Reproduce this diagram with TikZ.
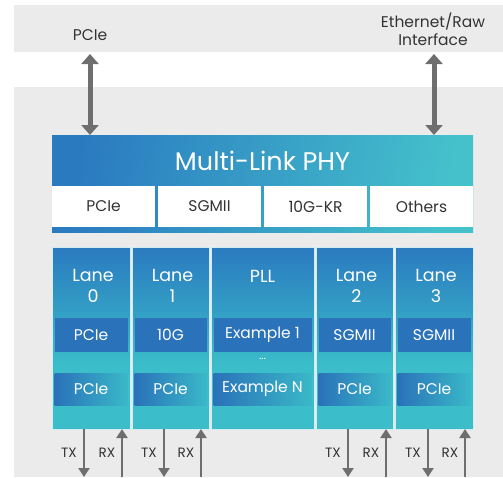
\documentclass[tikz,border=0pt]{standalone}
\usepackage{fontspec}
\setmainfont{Poppins}
\usetikzlibrary{arrows.meta}
\definecolor{bgg}{HTML}{EBEBEB}
\definecolor{arr}{HTML}{6E6E6E}
\definecolor{blu}{HTML}{2A7AC0}
\definecolor{tea}{HTML}{3BBEC9}
\definecolor{ibl}{HTML}{2A72B9}
\definecolor{txt}{HTML}{333333}
\definecolor{sep}{HTML}{D2EDF1}
\pgfdeclareverticalshading{lanegrad}{100bp}{color(0bp)=(tea); color(25bp)=(tea); color(42bp)=(tea); color(75bp)=(blu); color(100bp)=(blu)}
\begin{document}
\begin{tikzpicture}[x=1pt,y=-1pt,
  every node/.style={inner sep=0pt,outer sep=0pt},
  dark/.style={text=txt,font=\fontsize{15.5}{18}\selectfont},
  wtxt/.style={text=white,font=\fontsize{15.5}{18}\selectfont},
  lanetxt/.style={text=white,font=\fontsize{17.5}{21}\selectfont,align=center},
  colbox/.style={rectangle,shade,shading=lanegrad,draw=sep,line width=0.7pt},
  upbox/.style={rectangle,fill=ibl},
  lowbox/.style={rectangle,left color=ibl,right color=tea!92!blu},
  whitebox/.style={rectangle,fill=white,minimum height=41pt,dark},
  bigarrow/.style={draw=arr,line width=5pt,{Triangle[width=17pt,length=10pt]}-{Triangle[width=17pt,length=10pt]}},
  trx/.style={draw=arr,line width=2.2pt,-{Triangle[width=11pt,length=9pt]}},
  trxtxt/.style={text=txt,font=\fontsize{13.5}{15}\selectfont}]
\useasboundingbox (0,0) rectangle (503,477);
% backgrounds
\fill[bgg] (14,5) rectangle (503,52);
\fill[bgg] (14,87) rectangle (503,477);
% top labels
\node[dark] (pcietop) at (90,35) {PCIe};
\node[dark,align=center] (ethtop) at (433,29) {Ethernet/Raw\\Interface};
% PHY block
\node[rectangle,minimum width=421pt,minimum height=97pt,left color=blu,right color=tea!95!white,shading angle=80] (phyall) at (262.5,183.5) {};
\node[text=white,font=\fontsize{25.5}{28}\selectfont] (phy) at (262.5,161) {Multi-Link PHY};
\node[whitebox,minimum width=103pt] (p1) at (103.5,206.5) {PCIe};
\node[whitebox,minimum width=103pt] (p2) at (209.5,206.5) {SGMII};
\node[whitebox,minimum width=103pt] (p3) at (315.5,206.5) {10G-KR};
\node[whitebox,minimum width=103pt] (p4) at (421.5,206.5) {Others};
% big arrows
\coordinate (a1t) at (90,54);
\coordinate (a2t) at (434,54);
\draw[bigarrow] (a1t) -- (a1t |- phyall.north);
\draw[bigarrow] (a2t) -- (a2t |- phyall.north);
% columns
\node[colbox,minimum width=78pt,minimum height=182pt] (l0) at (91,338) {};
\node[colbox,minimum width=77pt,minimum height=182pt] (l1) at (170.5,338) {};
\node[colbox,minimum width=103pt,minimum height=182pt] (pll) at (262.5,338) {};
\node[colbox,minimum width=77pt,minimum height=182pt] (l2) at (354.5,338) {};
\node[colbox,minimum width=78pt,minimum height=182pt] (l3) at (434,338) {};
% column titles
\node[lanetxt] (t0) at (93,286) {Lane\\0};
\node[lanetxt] (t1) at (172.5,286) {Lane\\1};
\node[lanetxt] (tp) at (262.5,276) {PLL};
\node[lanetxt] (t2) at (356.5,286) {Lane\\2};
\node[lanetxt] (t3) at (436,286) {Lane\\3};
% inner upper boxes
\node[upbox,minimum width=73pt,minimum height=34pt,wtxt] (u0) at (91,335) {PCIe};
\node[upbox,minimum width=72pt,minimum height=34pt,wtxt] (u1) at (170.5,335) {10G};
\node[upbox,minimum width=98pt,minimum height=34pt,wtxt] (up) at (262.5,335) {Example 1};
\node[upbox,minimum width=72pt,minimum height=34pt,wtxt] (u2) at (354.5,335) {SGMII};
\node[upbox,minimum width=73pt,minimum height=34pt,wtxt] (u3) at (434,335) {SGMII};
\node[text=white,font=\fontsize{11}{14}\selectfont] (dots) at (262.5,359) {...};
% inner lower boxes
\node[lowbox,minimum width=73pt,minimum height=32pt,wtxt] (d0) at (91,389) {PCIe};
\node[lowbox,minimum width=72pt,minimum height=32pt,wtxt] (d1) at (170.5,389) {PCIe};
\node[lowbox,minimum width=98pt,minimum height=32pt,wtxt] (dp) at (262.5,389) {Example N};
\node[lowbox,minimum width=72pt,minimum height=32pt,wtxt] (d2) at (354.5,389) {PCIe};
\node[lowbox,minimum width=73pt,minimum height=32pt,wtxt] (d3) at (434,389) {PCIe};
% TX / RX
\foreach \n/\tx/\rx in {l0/84/122, l1/164/201, l2/348/386, l3/428/465}{
  \coordinate (\n tx) at (\tx,477);
  \coordinate (\n rx) at (\rx,477);
  \draw[trx] (\n.south -| \n tx) -- (\n tx);
  \draw[trx] (\n rx) -- (\n.south -| \n rx);
  \node[trxtxt] (\n txl) at (\tx-15,453) {TX};
  \node[trxtxt] (\n rxl) at (\rx-15,453) {RX};
}
\end{tikzpicture}
\end{document}
